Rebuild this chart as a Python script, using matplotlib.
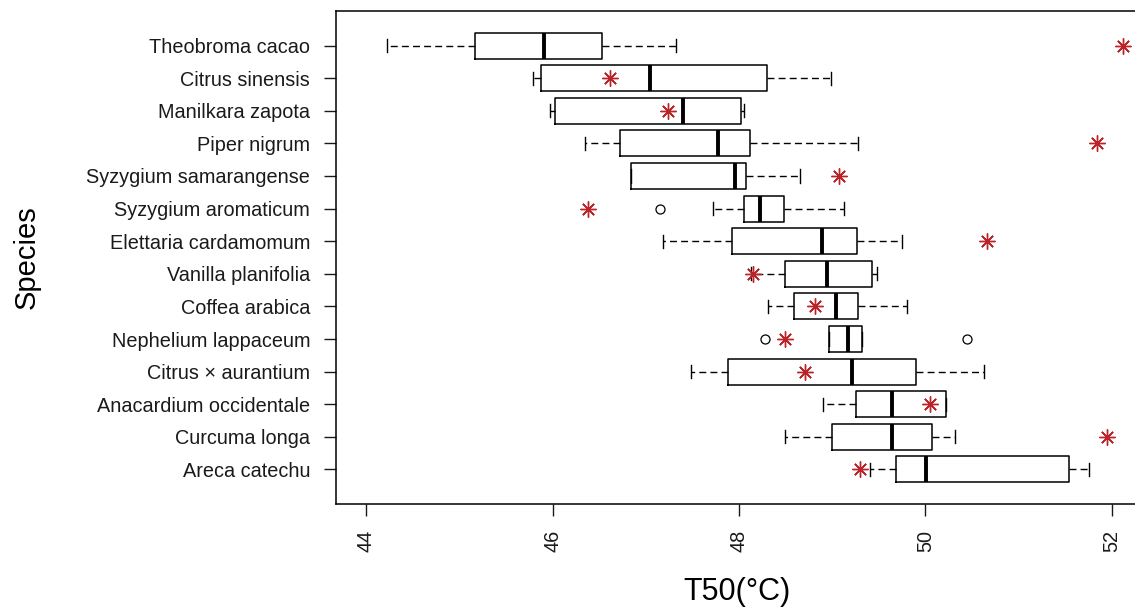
import matplotlib.pyplot as plt

# Dados (T50 em °C)
especies = ["Theobroma cacao", "Citrus sinensis", "Manilkara zapota", "Piper nigrum",
            "Syzygium samarangense", "Syzygium aromaticum", "Elettaria cardamomum",
            "Vanilla planifolia", "Coffea arabica", "Nephelium lappaceum",
            "Citrus × aurantium", "Anacardium occidentale", "Curcuma longa", "Areca catechu"]
whis_min = [44.23, 45.79, 45.97, 46.35, 46.84, 47.72, 47.19, 48.13, 48.31, 48.96, 47.49, 48.90, 48.49, 49.40]
q1 = [45.17, 45.88, 46.03, 46.72, 46.84, 48.05, 47.92, 48.49, 48.59, 48.96, 47.88, 49.26, 49.00, 49.68]
mediana = [45.91, 47.05, 47.40, 47.77, 47.96, 48.23, 48.89, 48.94, 49.04, 49.17, 49.21, 49.64, 49.64, 50.01]
q3 = [46.53, 48.30, 48.02, 48.12, 48.08, 48.48, 49.27, 49.43, 49.28, 49.32, 49.90, 50.22, 50.07, 51.54]
whis_max = [47.32, 48.99, 48.05, 49.28, 48.65, 49.13, 49.75, 49.48, 49.80, 49.32, 50.63, 50.22, 50.32, 51.75]
outliers = [[], [], [], [], [], [47.15], [], [], [], [48.28, 50.45], [], [], [], []]
estrelas = [52.12, 46.62, 47.24, 51.84, 49.07, 46.38, 50.66, 48.15, 48.82, 48.49, 48.71, 50.05, 51.95, 49.30]

plt.rcParams['font.family'] = ['Liberation Sans', 'DejaVu Sans']

fig = plt.figure(figsize=(11.35, 6.07), dpi=100)
ax = fig.add_axes([336 / 1135, 103 / 607, 802 / 1135, 493 / 607])

# Primeira espécie no topo
pos = list(range(len(especies), 0, -1))
stats = []
for i in range(len(especies)):
    stats.append(dict(label=especies[i], whislo=whis_min[i], q1=q1[i], med=mediana[i],
                      q3=q3[i], whishi=whis_max[i], fliers=outliers[i]))

ax.bxp(stats, positions=pos, widths=0.8, capwidths=0.4, orientation='horizontal',
       boxprops=dict(color='black', linewidth=1.1),
       medianprops=dict(color='black', linewidth=2.8),
       whiskerprops=dict(color='black', linewidth=1.0, linestyle=(0, (5, 3))),
       capprops=dict(color='black', linewidth=1.0),
       flierprops=dict(marker='o', markerfacecolor='none', markeredgecolor='black',
                       markersize=6.5, markeredgewidth=0.9))

# Asteriscos vermelhos
ax.plot(estrelas, pos, linestyle='none', marker=(8, 2, 0), markersize=11.5,
        markeredgewidth=1.0, color='#BA2429')

ax.set_xlim(43.678, 52.279)
ax.set_ylim(-0.06, 15.06)
ax.set_xticks([44, 46, 48, 50, 52])
ax.set_xticklabels(['44', '46', '48', '50', '52'], rotation=90)
ax.set_yticks(pos)
ax.set_yticklabels(especies)
ax.tick_params(length=8.6, width=1, pad=10, labelsize=14.3, colors='#1a1a1a')
for s in ax.spines.values():
    s.set_linewidth(1.1)

fig.text(737 / 1135, 7 / 607, 'T50(°C)', ha='center', va='baseline', fontsize=22)
fig.text(27 / 1135, 1 - 257.5 / 607, 'Species', rotation=90, ha='center', va='center', fontsize=21)

plt.savefig('out.png', dpi=100)
